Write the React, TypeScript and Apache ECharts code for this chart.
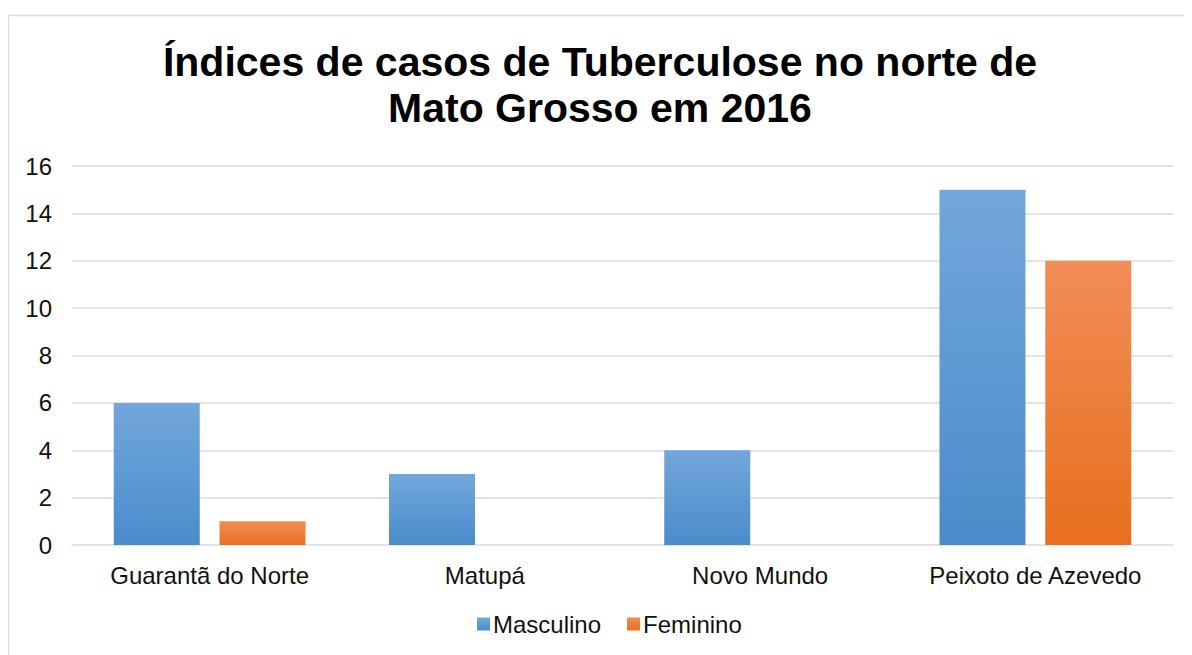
import React, { useEffect, useRef } from "react";
import * as echarts from "echarts";

const categories = ["Guarantã do Norte", "Matupá", "Novo Mundo", "Peixoto de Azevedo"];
const masculino = [6, 3, 4, 15];
const feminino = [1, 0, 0, 12];
const titleText = "Índices de casos de Tuberculose no norte de\nMato Grosso em 2016";

export default function App() {
  const ref = useRef<HTMLDivElement>(null);
  useEffect(() => {
    if (!ref.current) return;
    const chart = echarts.init(ref.current, undefined, { renderer: "svg" });
    const font = "'Liberation Sans', Arial, sans-serif";
    chart.setOption({
      animation: false,
      backgroundColor: "#fff",
      textStyle: { fontFamily: font },
      graphic: [
        {
          type: "rect",
          shape: { x: 0.5, y: 7.5, width: 1400, height: 900 },
          style: { fill: "none", stroke: "#d9dfe7", lineWidth: 1.5 },
          silent: true,
          z: -1,
        },
      ],
      title: {
        text: titleText,
        left: "center",
        top: 26,
        textStyle: {
          fontFamily: font,
          fontSize: 41,
          fontWeight: "bold",
          color: "#000",
          lineHeight: 46,
        },
      },
      legend: {
        bottom: 14,
        left: 464,
        itemWidth: 13,
        itemHeight: 13,
        itemGap: 26,
        icon: "rect",
        textStyle: { fontFamily: font, fontSize: 24, color: "#111", padding: [0, 0, 0, -2] },
        data: ["Masculino", "Feminino"],
      },
      grid: { left: 64, right: 19, top: 158, bottom: 110 },
      xAxis: {
        type: "category",
        data: categories,
        axisTick: { show: false },
        axisLine: { lineStyle: { color: "#e1e5eb", width: 2 } },
        axisLabel: { fontFamily: font, fontSize: 24, color: "#111", margin: 18, interval: 0 },
      },
      yAxis: {
        type: "value",
        min: 0,
        max: 16,
        interval: 2,
        axisLine: { show: false },
        axisTick: { show: false },
        splitLine: { lineStyle: { color: "#e1e5eb", width: 2 } },
        axisLabel: { fontFamily: font, fontSize: 24, color: "#111", margin: 20 },
      },
      series: [
        {
          name: "Masculino",
          type: "bar",
          data: masculino,
          barWidth: 86,
          barGap: "23%",
          itemStyle: {
            color: new echarts.graphic.LinearGradient(0, 0, 0, 1, [
              { offset: 0, color: "#72a7dc" },
              { offset: 1, color: "#4a8cca" },
            ]),
          },
        },
        {
          name: "Feminino",
          type: "bar",
          data: feminino,
          barWidth: 86,
          itemStyle: {
            color: new echarts.graphic.LinearGradient(0, 0, 0, 1, [
              { offset: 0, color: "#f18d56" },
              { offset: 1, color: "#e86f1e" },
            ]),
          },
        },
      ],
    });
    return () => chart.dispose();
  }, []);
  return <div ref={ref} style={{ width: 1184, height: 647 }} />;
}
